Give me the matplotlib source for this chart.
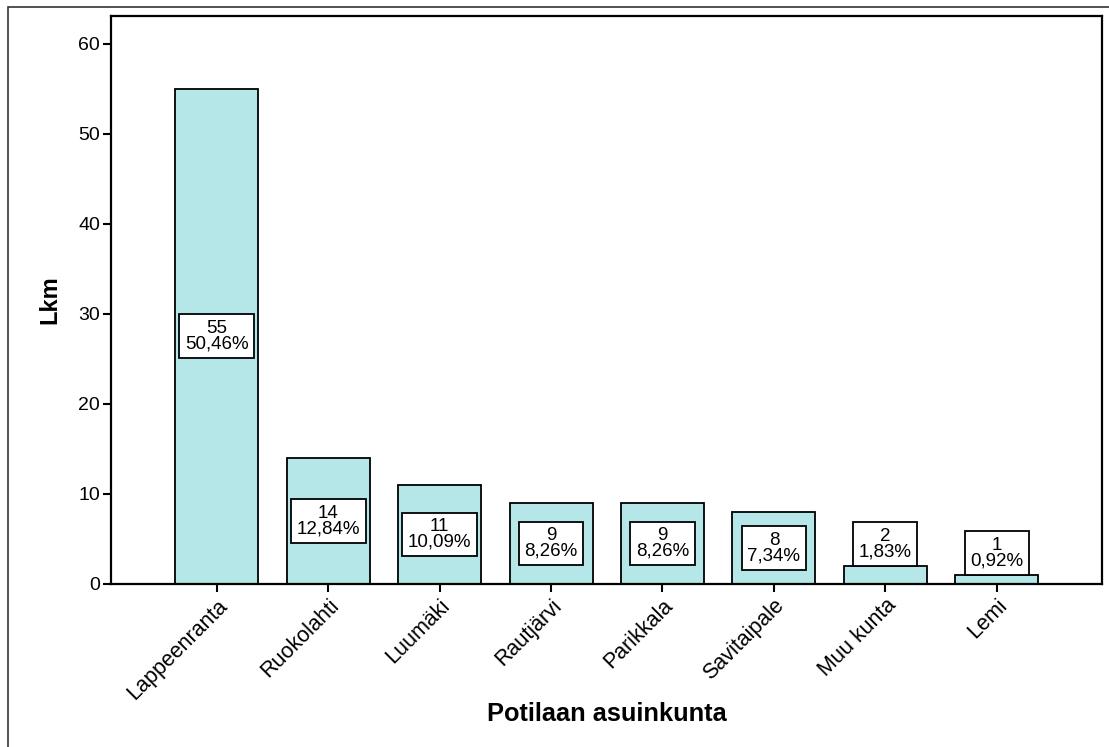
import matplotlib
matplotlib.use("Agg")
import matplotlib.pyplot as plt
from matplotlib.patches import Rectangle

plt.rcParams['font.family'] = ['Liberation Sans', 'DejaVu Sans']

# Residence municipality of patients (counts)
municipalities = ["Lappeenranta", "Ruokolahti", "Luumäki", "Rautjärvi",
                  "Parikkala", "Savitaipale", "Muu kunta", "Lemi"]
counts = [55, 14, 11, 9, 9, 8, 2, 1]
y_ticks = [0, 10, 20, 30, 40, 50, 60]

total = sum(counts)
percent_labels = [f"{100 * c / total:.2f}%".replace(".", ",") for c in counts]

fig = plt.figure(figsize=(11.09, 7.47), dpi=100)

# outer frame (top and left edges)
fig.patches.append(Rectangle((8 / 1109, -0.05), 1.2, (747 - 7) / 747 + 0.05,
                             transform=fig.transFigure, fill=False,
                             edgecolor="#333333", linewidth=1.2))

ax = fig.add_axes([111 / 1109, (747 - 584) / 747,
                   (1102 - 111) / 1109, (584 - 16) / 747])

x = list(range(len(municipalities)))
ax.bar(x, counts, width=0.745, color="#b5e6e8", edgecolor="black",
       linewidth=1.3, zorder=2)

ax.set_xlim(-0.95, len(municipalities) - 1 + 0.945)
ax.set_ylim(0, 63.1)
ax.set_yticks(y_ticks)
ax.set_xticks(x)
ax.set_xticklabels(municipalities, rotation=45, ha="right",
                   rotation_mode="anchor", fontsize=15.5)
ax.tick_params(axis="y", labelsize=14, length=6, width=1.5, pad=2)
ax.tick_params(axis="x", length=6, width=1.5, pad=2)

for side in ["left", "top", "right", "bottom"]:
    ax.spines[side].set_linewidth(1.6)

label_size = 13.5
box_pad = 0.3
box_height_units = 5.0
for xi, c, p in zip(x, counts, percent_labels):
    label = f"{c}\n{p}"
    box = dict(boxstyle=f"square,pad={box_pad}", facecolor="white",
               edgecolor="black", linewidth=1.3)
    if c > box_height_units:
        ax.text(xi, c / 2, label, ha="center", va="center", fontsize=label_size,
                linespacing=0.9, zorder=3, bbox=box)
    else:
        ax.annotate(label, (xi, c), xytext=(0, box_pad * label_size),
                    textcoords="offset points", ha="center", va="bottom",
                    fontsize=label_size, linespacing=0.9, zorder=3, bbox=box)

ax.set_ylabel("Lkm", fontsize=17, fontweight="bold", labelpad=12)
fig.text((111 + 1102) / 2 / 1109, 1 - 714 / 747, "Potilaan asuinkunta",
         ha="center", va="center", fontsize=18.3, fontweight="bold")

fig.savefig("out.png", dpi=100)
